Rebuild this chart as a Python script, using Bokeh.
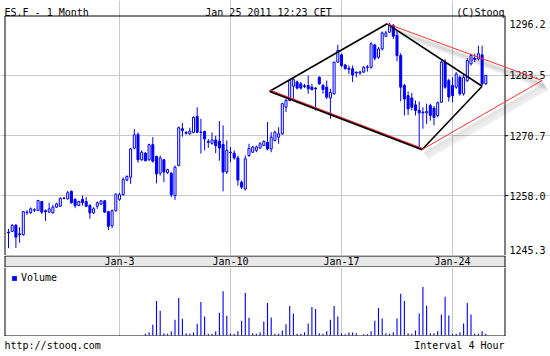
from bokeh.plotting import figure
from bokeh.models import (Range1d, FixedTicker, Grid, Legend, LegendItem, ColumnDataSource)
from bokeh.layouts import column
from bokeh.embed import file_html
from bokeh.resources import INLINE
from bokeh.core.properties import value

# ---------------- data (4-hour bars, ES.F) ----------------
opens = [1250.25, 1250.4, 1251.7, 1249.9, 1249.7, 1254.4, 1254.4, 1254.9, 1254.85, 1256.75,
         1254.8, 1254.5, 1254.35, 1255.55, 1255.75, 1257.45, 1257.3, 1258.9, 1257.2, 1255.9,
         1257.2, 1256.75, 1255.9, 1254.35, 1255.75, 1256.2, 1256.9, 1254.6, 1251.65, 1254.8,
         1257.2, 1258.2, 1261.3, 1261.9, 1268.05, 1270.95, 1265.6, 1267.0, 1265.6, 1268.8,
         1266.3, 1262.75, 1265.6, 1262.9, 1262.75, 1258.0, 1264.4, 1272.2, 1271.2, 1271.1,
         1271.4, 1274.8, 1271.5, 1271.6, 1269.5, 1269.1, 1269.8, 1269.55, 1268.85, 1263.0,
         1267.2, 1267.0, 1266.0, 1260.85, 1259.4, 1266.5, 1267.2, 1267.6, 1268.1, 1268.6,
         1269.3, 1267.9, 1269.7, 1270.4, 1271.1, 1276.75, 1278.2, 1281.2, 1282.1, 1281.7,
         1281.3, 1281.35, 1281.0, 1280.8, 1283.1, 1281.35, 1281.0, 1278.7, 1279.6, 1286.3,
         1287.85, 1285.7, 1285.0, 1284.9, 1284.2, 1284.0, 1284.2, 1285.2, 1285.2, 1289.95,
         1287.35, 1289.1, 1291.8, 1292.65, 1294.1, 1292.0, 1287.7, 1281.35, 1279.2, 1278.7,
         1277.25, 1276.1, 1275.7, 1275.55, 1277.1, 1276.55, 1275.0, 1277.8, 1286.3, 1282.4,
         1281.35, 1281.0, 1283.1, 1279.6, 1282.4, 1285.95, 1287.15, 1287.0, 1287.85, 1281.7]
highs = [1250.95, 1251.95, 1252.0, 1251.3, 1254.7, 1254.9, 1255.5, 1255.3, 1257.1, 1256.9,
         1255.05, 1256.5, 1256.05, 1256.5, 1257.6, 1257.75, 1259.0, 1259.1, 1257.45, 1256.9,
         1258.0, 1257.7, 1256.2, 1255.55, 1256.75, 1257.05, 1257.05, 1254.8, 1255.05, 1258.45,
         1258.6, 1261.85, 1262.3, 1268.1, 1272.1, 1271.4, 1267.6, 1267.2, 1269.0, 1270.4,
         1266.5, 1266.5, 1265.8, 1263.7, 1262.95, 1264.4, 1272.65, 1273.4, 1271.7, 1272.4,
         1274.8, 1276.75, 1274.3, 1271.8, 1270.0, 1271.4, 1270.7, 1273.8, 1272.9, 1269.7,
         1268.3, 1267.6, 1266.5, 1261.2, 1266.5, 1269.0, 1268.5, 1268.6, 1269.35, 1269.7,
         1273.6, 1271.45, 1271.8, 1272.5, 1277.7, 1278.5, 1282.6, 1283.1, 1282.4, 1282.1,
         1281.7, 1283.5, 1281.7, 1281.0, 1283.3, 1281.7, 1282.4, 1280.65, 1286.4, 1290.0,
         1288.1, 1285.95, 1285.6, 1285.6, 1284.3, 1284.5, 1285.45, 1285.7, 1290.55, 1290.2,
         1289.5, 1292.8, 1293.0, 1294.65, 1294.4, 1293.0, 1288.2, 1281.7, 1280.1, 1279.8,
         1278.2, 1277.95, 1276.75, 1277.5, 1277.5, 1277.0, 1277.95, 1286.65, 1286.9, 1282.8,
         1283.1, 1284.2, 1283.5, 1283.6, 1287.15, 1288.1, 1288.1, 1289.8, 1289.8, 1283.6]
lows = [1246.85, 1250.25, 1246.9, 1248.0, 1249.5, 1253.9, 1254.1, 1254.5, 1254.7, 1254.1,
        1252.65, 1254.35, 1254.2, 1255.35, 1255.6, 1257.2, 1257.2, 1256.25, 1255.35, 1255.75,
        1255.9, 1255.55, 1253.1, 1254.1, 1255.2, 1256.05, 1254.35, 1250.7, 1251.1, 1254.6,
        1256.9, 1258.0, 1261.05, 1260.5, 1267.85, 1265.0, 1265.4, 1265.3, 1265.4, 1265.0,
        1260.6, 1262.25, 1260.85, 1262.6, 1257.7, 1257.1, 1264.2, 1270.5, 1270.95, 1270.9,
        1271.2, 1271.2, 1266.9, 1267.6, 1268.1, 1268.8, 1267.0, 1265.4, 1258.9, 1262.6,
        1265.1, 1265.6, 1260.1, 1259.4, 1259.1, 1266.2, 1267.1, 1267.2, 1267.9, 1268.5,
        1267.6, 1267.2, 1269.5, 1269.0, 1270.9, 1275.7, 1278.0, 1278.5, 1280.5, 1280.5,
        1280.8, 1279.6, 1280.3, 1276.05, 1281.5, 1279.6, 1278.5, 1274.3, 1279.4, 1286.2,
        1285.2, 1284.75, 1283.8, 1282.1, 1283.1, 1283.6, 1284.05, 1284.3, 1284.9, 1286.65,
        1287.0, 1288.8, 1291.6, 1292.5, 1291.25, 1286.5, 1278.0, 1275.0, 1275.1, 1276.05,
        1275.0, 1267.9, 1272.2, 1273.2, 1273.9, 1272.9, 1274.6, 1277.7, 1280.65, 1277.95,
        1277.8, 1280.65, 1279.2, 1279.2, 1282.1, 1285.6, 1286.3, 1286.65, 1281.35, 1281.55]
closes = [1250.1, 1251.7, 1249.2, 1249.7, 1254.6, 1254.5, 1255.2, 1255.0, 1256.95, 1254.5,
          1254.6, 1255.2, 1255.55, 1256.25, 1257.45, 1257.4, 1258.6, 1256.5, 1255.9, 1256.75,
          1256.5, 1255.75, 1254.35, 1255.2, 1256.5, 1256.9, 1254.5, 1251.5, 1254.8, 1258.3,
          1258.2, 1261.4, 1262.05, 1267.9, 1270.9, 1265.6, 1267.2, 1265.4, 1268.8, 1265.3,
          1262.6, 1266.0, 1263.0, 1263.5, 1258.2, 1264.0, 1272.4, 1271.8, 1271.4, 1271.7,
          1274.6, 1271.45, 1271.4, 1270.0, 1269.3, 1269.8, 1268.6, 1268.1, 1263.0, 1267.6,
          1267.1, 1266.0, 1261.3, 1259.8, 1265.8, 1268.0, 1268.3, 1268.3, 1269.0, 1269.5,
          1267.9, 1270.4, 1271.45, 1271.1, 1277.5, 1278.2, 1282.4, 1282.6, 1280.8, 1280.8,
          1281.15, 1280.65, 1280.5, 1280.65, 1281.7, 1280.5, 1278.9, 1279.9, 1286.3, 1288.8,
          1285.6, 1284.9, 1284.8, 1283.6, 1284.0, 1284.2, 1285.2, 1285.3, 1290.2, 1287.15,
          1289.1, 1292.5, 1292.5, 1294.2, 1291.8, 1287.7, 1281.0, 1278.5, 1276.4, 1276.75,
          1276.05, 1275.55, 1275.55, 1275.85, 1275.0, 1274.6, 1277.7, 1286.3, 1281.0, 1278.9,
          1279.2, 1283.8, 1279.6, 1283.1, 1286.65, 1287.7, 1286.9, 1288.1, 1281.7, 1283.5]
# volume, thousand contracts (no volume before bar 37)
volumes = [0] * 37 + [
    17, 33, 110, 350, 250, 23, 17, 40, 160, 380, 170, 23, 17, 30, 120, 340, 193, 17, 17, 43,
    230, 450, 200, 17, 17, 43, 150, 430, 180, 23, 17, 33, 143, 330, 183, 17, 17, 50, 113, 300,
    223, 17, 17, 33, 123, 290, 270, 23, 17, 43, 160, 300, 193, 23, 13, 30, 30, 23, 0, 13,
    13, 43, 150, 280, 173, 23, 17, 33, 173, 423, 350, 23, 17, 50, 223, 493, 303, 23, 23, 43,
    213, 393, 203, 17, 17, 33, 123, 330, 213, 17, 17, 43, 17]
bar_index = list(range(len(opens)))

week_ticks = [30, 60, 90, 120]
week_labels = ["Jan-3", "Jan-10", "Jan-17", "Jan-24"]
price_min, price_max = 1245.3, 1296.2
price_ticks = [1258.0, 1270.7, 1283.5]
vol_max = 690

# hand-drawn trendline anchors (bar index, price): left, top, bottom, right, far right
tl_x = [70.6, 102.35, 111.8, 128.0, 144.2]
tl_y = [1280.14, 1294.44, 1267.78, 1281.2, 1282.4]

BLUE = "#0000ff"
GRID = "#c8c8c8"
FONT = "DejaVu Sans Mono"
FS = "10px"

# ---------------- layout geometry (pixels) ----------------
W = 550
PX0, PPB = 8.0, 3.7            # pixel column of bar 0, pixels per bar
FRAME_L, FRAME_R = 4, 504      # chart box
P_TOP, P_BOT = 15, 255         # price box (main canvas rows)
BAND_H, VOL_H, FOOT_H = 12, 69, 20
VOL_BASE = 68                  # volume baseline row inside its canvas
ppu = (P_BOT - P_TOP) / (price_max - price_min)
vpu = VOL_BASE / vol_max


def X(px):
    return (px - PX0) / PPB


def Y(py):
    return price_max - (py - P_TOP) / ppu


def V(py):
    return (VOL_BASE - py) / vpu


def make(height, y_range):
    fig = figure(width=W, height=height, x_range=xr, y_range=y_range,
                 x_axis_location=None, y_axis_location=None, toolbar_location=None,
                 output_backend="svg", min_border=0)
    fig.grid.visible = False
    fig.background_fill_color = "white"
    fig.border_fill_color = "white"
    fig.outline_line_color = None
    return fig


def txt(fig, x, y, s, align, baseline="middle"):
    fig.text(x=x, y=y, text=s, text_font=value(FONT), text_font_size=value(FS),
             text_align=align, text_baseline=baseline, text_color="black")


xr = Range1d(X(0), X(W))
bx0, bx1 = X(FRAME_L + 0.5), X(FRAME_R + 0.5)

# ---------------- main price panel ----------------
p = make(P_BOT, Range1d(Y(P_BOT), Y(0)))
p.add_layout(Grid(dimension=1, ticker=FixedTicker(ticks=price_ticks), grid_line_color=GRID,
                  bounds=(X(FRAME_L), X(FRAME_R))))
p.add_layout(Grid(dimension=0, ticker=FixedTicker(ticks=week_ticks), grid_line_color=GRID,
                  bounds=(price_min, price_max)))

# chart box (left, top, right)
by0, by1 = Y(P_BOT), Y(P_TOP + 0.5)
p.segment(x0=[bx0, bx0, bx1], y0=[by0, by1, by1], x1=[bx0, bx1, bx1], y1=[by1, by1, by0],
          line_color="black", line_width=1)

# price scale on the right: tick marks and labels
p.segment(x0=[bx1] * len(price_ticks), y0=price_ticks, x1=[X(FRAME_R + 3.5)] * len(price_ticks),
          y1=price_ticks, line_color="black", line_width=1)
txt(p, [X(FRAME_R + 5)] * len(price_ticks), price_ticks, ["%.1f" % t for t in price_ticks], "left")
txt(p, [X(FRAME_R + 5)] * 2, [Y(P_TOP + 8), Y(P_BOT - 6)],
    ["%.1f" % price_max, "%.1f" % price_min], "left")

# candlesticks
tops = [max(o, c) for o, c in zip(opens, closes)]
bots = [min(o, c) for o, c in zip(opens, closes)]
up = [c >= o for o, c in zip(opens, closes)]
src = ColumnDataSource(dict(x=bar_index, high=highs, low=lows))
src_up = ColumnDataSource(dict(x=[i for i in bar_index if up[i]],
                               top=[tops[i] for i in bar_index if up[i]],
                               bottom=[bots[i] for i in bar_index if up[i]]))
src_dn = ColumnDataSource(dict(x=[i for i in bar_index if not up[i]],
                               top=[tops[i] for i in bar_index if not up[i]],
                               bottom=[bots[i] for i in bar_index if not up[i]]))
p.segment(x0="x", y0="high", x1="x", y1="low", source=src, line_color=BLUE, line_width=1)
p.vbar(x="x", width=0.55, top="top", bottom="bottom", source=src_up,
       fill_color="white", line_color=BLUE, line_width=1)
p.vbar(x="x", width=0.55, top="top", bottom="bottom", source=src_dn,
       fill_color=BLUE, line_color=BLUE, line_width=1)

# trendlines
L, T, B, R, F = 0, 1, 2, 3, 4
red_pairs = [(T, F), (B, F)]
for dx, dy, a in [(0.6, -0.8, 0.10), (1.0, -1.3, 0.08), (1.4, -1.8, 0.06)]:
    p.segment(x0=[tl_x[s] + dx for s, e in red_pairs], y0=[tl_y[s] + dy for s, e in red_pairs],
              x1=[tl_x[e] + dx for s, e in red_pairs], y1=[tl_y[e] + dy for s, e in red_pairs],
              line_color="black", line_alpha=a, line_width=3)
blk_pairs = [(L, T), (T, R), (B, R)]
p.segment(x0=[tl_x[s] for s, e in blk_pairs], y0=[tl_y[s] for s, e in blk_pairs],
          x1=[tl_x[e] for s, e in blk_pairs], y1=[tl_y[e] for s, e in blk_pairs],
          line_color="black", line_width=1.6)
p.segment(x0=[tl_x[L]], y0=[tl_y[L]], x1=[tl_x[B]], y1=[tl_y[B]], line_color="black", line_width=2.2)
p.segment(x0=[tl_x[L]], y0=[tl_y[L] + 0.25], x1=[tl_x[B]], y1=[tl_y[B] + 0.25],
          line_color="#ff2020", line_width=1)
p.segment(x0=[tl_x[s] for s, e in red_pairs], y0=[tl_y[s] for s, e in red_pairs],
          x1=[tl_x[e] for s, e in red_pairs], y1=[tl_y[e] for s, e in red_pairs],
          line_color="#ff3030", line_width=1)

# header
txt(p, [X(FRAME_L)], [Y(12)], ["ES.F - 1 Month"], "left", "alphabetic")
txt(p, [X(268)], [Y(12)], ["Jan 25 2011 12:23 CET"], "center", "alphabetic")
txt(p, [X(FRAME_R)], [Y(12)], ["(C)Stooq"], "right", "alphabetic")

# ---------------- date band ----------------
band = make(BAND_H, Range1d(0, BAND_H))
band.quad(left=[bx0], right=[bx1], bottom=[0.5], top=[BAND_H - 0.5],
          fill_color="#e8e8e8", line_color="black", line_width=1)
txt(band, week_ticks, [BAND_H / 2] * len(week_ticks), week_labels, "center")

# ---------------- volume panel ----------------
vol = make(VOL_H, Range1d(V(VOL_H), V(0)))
vol.add_layout(Grid(dimension=0, ticker=FixedTicker(ticks=week_ticks), grid_line_color=GRID,
                    bounds=(0, vol_max)))
vr = vol.vbar(x=bar_index, top=volumes, width=0.3, fill_color=BLUE, line_color=None)
vb = V(VOL_BASE + 0.5)
vol.segment(x0=[bx0, bx0, bx1], y0=[V(0), vb, vb], x1=[bx0, bx1, bx1], y1=[vb, vb, V(0)],
            line_color="black", line_width=1)
leg = Legend(items=[LegendItem(label="Volume", renderers=[vr])], location=(11, 53),
             glyph_width=6, glyph_height=6, label_height=6, label_standoff=4, padding=0,
             margin=0, spacing=0, border_line_color=None, background_fill_alpha=0,
             label_text_font=FONT, label_text_font_size=FS, label_text_color="black")
vol.add_layout(leg)

# ---------------- footer ----------------
foot = make(FOOT_H, Range1d(0, FOOT_H))
txt(foot, [X(FRAME_L)], [11], ["http://stooq.com"], "left")
txt(foot, [X(FRAME_R)], [11], ["Interval 4 Hour"], "right")

layout = column(p, band, vol, foot, spacing=0)
open("out.html", "w").write(file_html(layout, INLINE))
